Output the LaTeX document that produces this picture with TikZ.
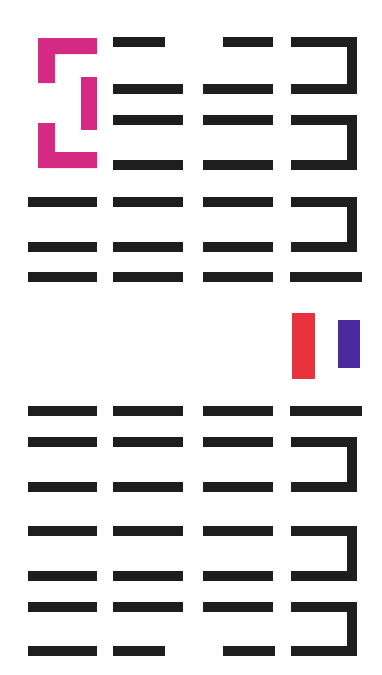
\documentclass[tikz,border=0pt]{standalone}
\usepackage{tikz}
\definecolor{barblack}{HTML}{1E1E1E}
\definecolor{hotpink}{HTML}{D42A84}
\definecolor{flagred}{HTML}{E8333F}
\definecolor{flagblue}{HTML}{4A2A9C}
\tikzset{
	bar/.style={draw=barblack, line width=10pt},
	hookbar/.style={bar, line join=miter},
}

\begin{document}
\begin{tikzpicture}[x=1pt, y=-1pt]
				\useasboundingbox (0,0) rectangle (382,675);
				% pink bracket
				\fill[hotpink] (38,38) -- (97,38) -- (97,54) -- (55,54) -- (55,83) -- (38,83) -- cycle;
				\fill[hotpink] (81,77) rectangle (97,130);
				\fill[hotpink] (38,123) -- (55,123) -- (55,152) -- (97,152) -- (97,168) -- (38,168) -- cycle;
				% first column
				\foreach \y in {202,247,277,411,442,487,531,576,607,651}
					\draw[bar] (28,\y) -- (97,\y);
				% second and third column
				\foreach \y in {89,120,165,202,247,277,411,442,487,531,576,607} {
					\draw[bar] (113,\y) -- (183,\y);
					\draw[bar] (203,\y) -- (273,\y);
				}
				\draw[bar] (113,42) -- (165,42);
				\draw[bar] (223,42) -- (273,42);
				\draw[bar] (113,651) -- (165,651);
				\draw[bar] (223,651) -- (275,651);
				% last column
				\foreach \a/\b in {42/89,120/165,202/247,442/487,531/576,607/651}
					\draw[hookbar] (291,\a) -- (352,\a) -- (352,\b) -- (291,\b);
				\draw[bar] (290,277) -- (362,277);
				\draw[bar] (290,411) -- (362,411);
				% flags
				\fill[flagred] (292,313) rectangle (315,379);
				\fill[flagblue] (338,320) rectangle (360,368);
			\end{tikzpicture}
\end{document}
